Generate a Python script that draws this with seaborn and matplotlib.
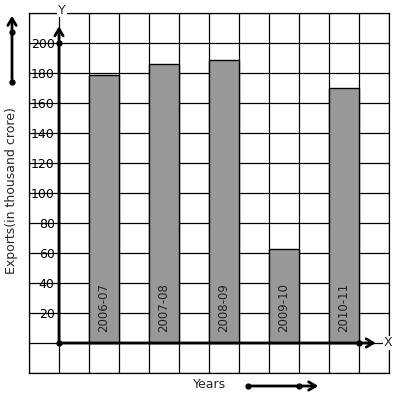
import numpy as np
import pandas as pd
import matplotlib
matplotlib.use("Agg")
import matplotlib.pyplot as plt
from matplotlib.lines import Line2D
import seaborn as sns

years = ["2006-07", "2007-08", "2008-09", "2009-10", "2010-11"]
exports = [179, 186, 189, 63, 170]
y_ticks = [20, 40, 60, 80, 100, 120, 140, 160, 180, 200]

# bars sit in every other grid column, starting one column right of the y axis
df = pd.DataFrame({"year": years, "exports": exports})
df["pos"] = 2 * np.arange(len(years)) + 1.5

sns.set_style("white")
plt.rcParams["font.family"] = ["DejaVu Sans"]

fig = plt.figure(figsize=(3.97, 3.99), dpi=100)
ax = fig.add_axes([29 / 397, 1 - 373 / 399, 360 / 397, 360 / 399])

sns.barplot(data=df, x="pos", y="exports", native_scale=True, width=0.5,
            color="#999999", saturation=1, edgecolor="black", linewidth=1, ax=ax)

ax.set_xlim(-1, 11)
ax.set_ylim(-20, 220)
ax.set_xlabel("")
ax.set_ylabel("")

ax.set_xticks([])
ax.set_yticks(y_ticks)
ax.set_yticklabels([str(v) for v in y_ticks], fontsize=9)
ax.tick_params(axis="y", which="major", direction="inout", length=5, width=0.9,
               pad=-21, colors="black")
for s in ax.spines.values():
    s.set_color("black")
    s.set_linewidth(0.9)

# grid (minor ticks every cell; keep those that share a spot with labelled ticks)
ax.yaxis.remove_overlapping_locs = False
ax.set_xticks(np.arange(-1, 12), minor=True)
ax.set_yticks(np.arange(-20, 221, 20), minor=True)
ax.tick_params(which="minor", length=0)
ax.xaxis.grid(True, which="minor", color="black", linewidth=0.9)
ax.yaxis.grid(True, which="minor", color="black", linewidth=0.9)
ax.set_axisbelow(True)

# year labels inside bars
for p, y in zip(df["pos"], years):
    ax.text(p, 7, y, rotation=90, ha="center", va="bottom", fontsize=8.5, color="#222222")

# axes with arrows
arrow = dict(arrowstyle="->,head_length=0.5,head_width=0.3", color="black", lw=2)
ax.annotate("", xy=(0, 213), xytext=(0, 0), arrowprops=arrow, annotation_clip=False)
ax.annotate("", xy=(10.65, 0), xytext=(0, 0), arrowprops=arrow, annotation_clip=False)
ax.plot([0, 0, 10], [0, 200, 0], "o", color="black", markersize=3.5, clip_on=False, zorder=5)
ax.text(0.1, 222, "Y", ha="center", va="center", fontsize=9, clip_on=False,
        bbox=dict(facecolor="white", edgecolor="none", pad=0.5), zorder=6)
ax.text(10.98, 0, "X", ha="center", va="center", fontsize=9, clip_on=False,
        bbox=dict(facecolor="white", edgecolor="none", pad=0.5), zorder=6)

# axis titles
fig.text(12 / 397, 1 - 191 / 399, "Exports(in thousand crore)", rotation=90,
         ha="center", va="center", fontsize=9)
fig.text(210 / 397, 1 - 385 / 399, "Years", ha="center", va="center", fontsize=9)

# decorative direction arrows outside the grid
ax.annotate("", xy=(12, 386), xytext=(12, 317), xycoords="figure pixels",
            arrowprops=arrow)
ax.annotate("", xy=(321, 13), xytext=(248, 13), xycoords="figure pixels",
            arrowprops=arrow)
fig.add_artist(Line2D([12 / 397, 12 / 397], [367 / 399, 317 / 399], marker="o",
                      linestyle="none", color="black", markersize=3.5,
                      transform=fig.transFigure))
fig.add_artist(Line2D([248 / 397, 299 / 397], [13 / 399, 13 / 399], marker="o",
                      linestyle="none", color="black", markersize=3.5,
                      transform=fig.transFigure))

fig.savefig("out.png", dpi=100)
